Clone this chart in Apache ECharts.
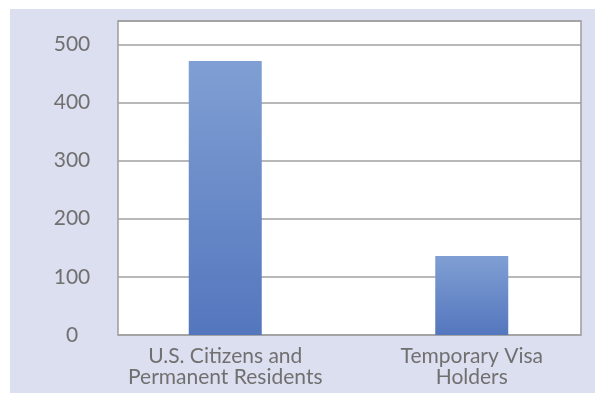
<!DOCTYPE html>
<html><head><meta charset="utf-8">
<script src="https://cdn.jsdelivr.net/npm/echarts@6/dist/echarts.min.js"></script>
<style>html,body{margin:0;padding:0;background:#fff}#c{width:595px;height:393px}</style>
</head><body><div id="c"></div>
<script>
const categories = ['U.S. Citizens and\nPermanent Residents', 'Temporary Visa\nHolders'];
const values = [471, 136];
const yTicks = [0, 100, 200, 300, 400, 500];

const chart = echarts.init(document.getElementById('c'), null, {renderer: 'canvas'});
const font = 'Lato';
chart.setOption({
  animation: false,
  backgroundColor: '#ffffff',
  graphic: [{
    type: 'rect', left: 10, top: 9, shape: {width: 585, height: 384}, z: -10,
    style: {fill: '#dcdff0'}
  }],
  grid: [
    {left: 118, top: 21, width: 463, height: 314, show: true, backgroundColor: '#ffffff', borderColor: '#9c9c9c', borderWidth: 1.5},
    {left: 102, top: 21, width: 495, height: 314, show: false}
  ],
  xAxis: [
    {gridIndex: 0, type: 'value', show: false, min: 0, max: 1},
    {gridIndex: 1, type: 'category', data: categories,
     axisLine: {show: false}, axisTick: {show: false},
     axisLabel: {color: '#707070', fontFamily: font, fontSize: 21, lineHeight: 21, margin: 11, interval: 0}}
  ],
  yAxis: [
    {gridIndex: 0, type: 'value', min: 0, max: 540, interval: 100,
     axisLine: {show: false}, axisTick: {show: false},
     axisLabel: {color: '#707070', fontFamily: font, fontSize: 21, align: 'center', margin: 46,
       formatter: v => yTicks.includes(v) ? String(v) : ''},
     splitLine: {lineStyle: {color: '#a0a0a0', width: 1.5}}},
    {gridIndex: 1, type: 'value', min: 0, max: 540, show: false}
  ],
  series: [{
    type: 'bar', xAxisIndex: 1, yAxisIndex: 1, data: values, barWidth: 73,
    itemStyle: {color: new echarts.graphic.LinearGradient(0, 0, 0, 1, [
      {offset: 0, color: '#809fd4'}, {offset: 1, color: '#5476bd'}])}
  }]
});
</script></body></html>
